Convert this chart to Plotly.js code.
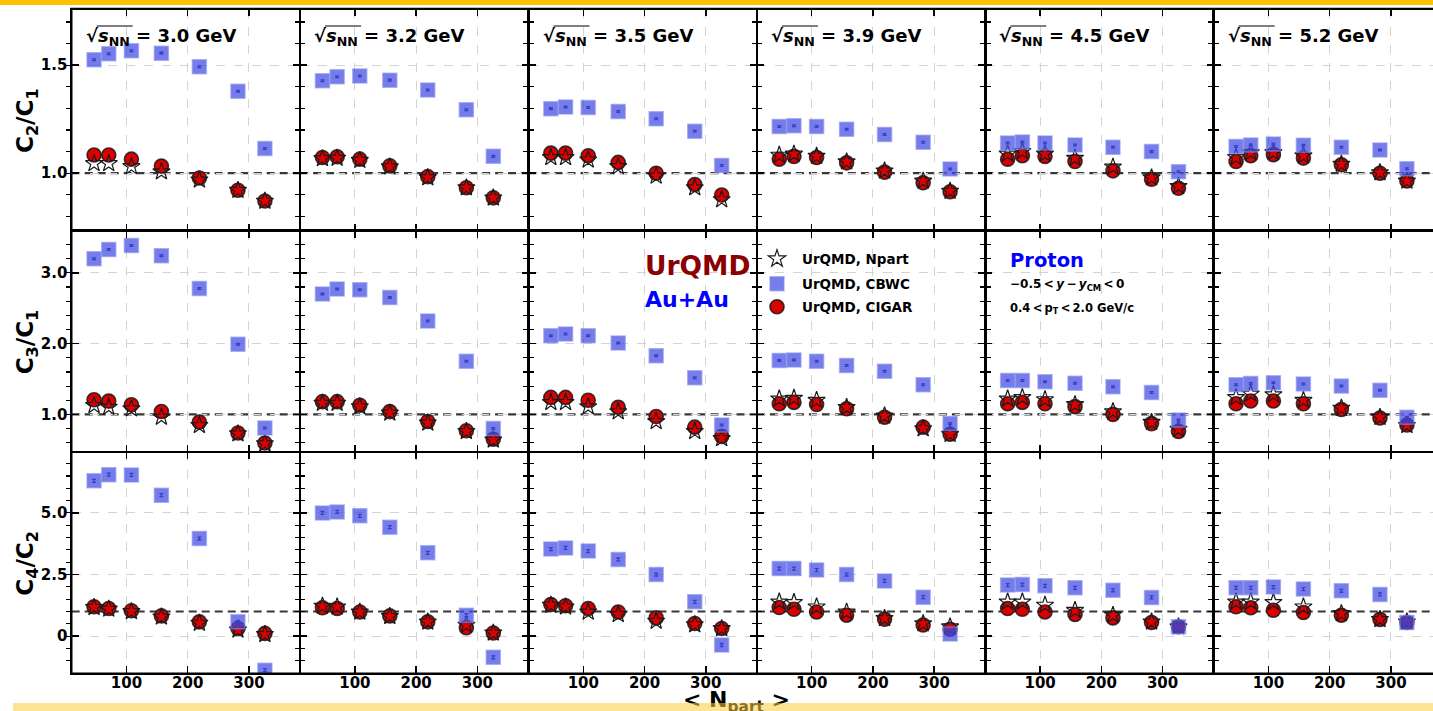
<!DOCTYPE html>
<html><head><meta charset="utf-8">
<script src="https://cdn.plot.ly/plotly-3.0.1.min.js"></script>
<style>
html,body{margin:0;padding:0;overflow:hidden;background:#fff;}
#chart{width:1445px;height:711px;}
.band-top{position:absolute;left:0;top:0;width:1433px;height:5px;background:#ffc000;z-index:10;}
.band-bot{position:absolute;left:13px;top:703px;width:1420px;height:8px;background:rgba(252,205,60,0.55);z-index:10;}
</style></head>
<body>
<div id="chart"></div>
<div class="band-top"></div><div class="band-bot"></div>
<script>
// ---------------- data ----------------
const npart = [47, 71, 108, 157, 219, 282, 326];
const energies = ['3.0', '3.2', '3.5', '3.9', '4.5', '5.2'];
const seriesNames = ['UrQMD, Npart', 'UrQMD, CBWC', 'UrQMD, CIGAR'];
const rowTitles = ['C<sub>2</sub>/C<sub>1</sub>', 'C<sub>3</sub>/C<sub>1</sub>', 'C<sub>4</sub>/C<sub>2</sub>'];
const yTickVals = [[1.0, 1.5], [1, 2, 3], [0, 2.5, 5]];
const yTickText = [['1.0', '1.5'], ['1.0', '2.0', '3.0'], ['0', '2.5', '5.0']];
const xTickVals = [100, 200, 300];
const xTickText = ['100', '200', '300'];

// C2/C1
const c2c1CBWC = [
  [1.525, 1.553, 1.567, 1.556, 1.493, 1.380, 1.114],
  [1.428, 1.447, 1.450, 1.431, 1.385, 1.294, 1.078],
  [1.299, 1.307, 1.304, 1.286, 1.252, 1.194, 1.036],
  [1.216, 1.220, 1.216, 1.204, 1.179, 1.143, 1.019],
  [1.140, 1.145, 1.140, 1.131, 1.120, 1.100, 1.007],
  [1.124, 1.131, 1.135, 1.129, 1.120, 1.107, 1.021]];
const c2c1CIGAR = [
  [1.084, 1.084, 1.065, 1.033, 0.978, 0.921, 0.871],
  [1.073, 1.076, 1.065, 1.034, 0.984, 0.933, 0.886],
  [1.093, 1.093, 1.081, 1.050, 1.000, 0.948, 0.899],
  [1.065, 1.078, 1.073, 1.048, 1.005, 0.956, 0.914],
  [1.065, 1.081, 1.078, 1.054, 1.011, 0.972, 0.930],
  [1.054, 1.081, 1.086, 1.070, 1.039, 1.000, 0.964]];
const c2c1Npart = [
  [1.045, 1.045, 1.031, 1.007, 0.969, 0.921, 0.871],
  [1.068, 1.070, 1.060, 1.030, 0.980, 0.933, 0.886],
  [1.073, 1.073, 1.062, 1.031, 0.987, 0.933, 0.878],
  [1.084, 1.089, 1.079, 1.053, 1.011, 0.964, 0.917],
  [1.089, 1.101, 1.089, 1.070, 1.029, 0.979, 0.939],
  [1.073, 1.096, 1.096, 1.081, 1.042, 1.003, 0.964]];
// C3/C1
const c3c1CBWC = [
  [3.20, 3.33, 3.385, 3.24, 2.78, 1.99, 0.807],
  [2.70, 2.77, 2.76, 2.65, 2.32, 1.75, 0.80],
  [2.113, 2.136, 2.113, 2.01, 1.83, 1.517, 0.85],
  [1.76, 1.77, 1.75, 1.69, 1.61, 1.42, 0.87],
  [1.48, 1.48, 1.46, 1.44, 1.39, 1.31, 0.92],
  [1.42, 1.437, 1.446, 1.43, 1.40, 1.34, 0.96]];
const c3c1CIGAR = [
  [1.207, 1.188, 1.136, 1.042, 0.892, 0.737, 0.596],
  [1.18, 1.18, 1.13, 1.04, 0.90, 0.77, 0.65],
  [1.24, 1.24, 1.20, 1.10, 0.97, 0.82, 0.69],
  [1.15, 1.17, 1.14, 1.08, 0.96, 0.82, 0.72],
  [1.15, 1.17, 1.15, 1.11, 1.00, 0.87, 0.76],
  [1.15, 1.19, 1.19, 1.15, 1.07, 0.95, 0.85]];
const c3c1Npart = [
  [1.127, 1.103, 1.08, 0.962, 0.845, 0.728, 0.587],
  [1.16, 1.16, 1.11, 1.02, 0.88, 0.76, 0.64],
  [1.17, 1.17, 1.11, 1.04, 0.90, 0.76, 0.66],
  [1.22, 1.23, 1.20, 1.10, 0.98, 0.80, 0.72],
  [1.22, 1.24, 1.21, 1.14, 1.04, 0.89, 0.79],
  [1.24, 1.29, 1.28, 1.20, 1.09, 0.96, 0.845]];
// C4/C2
const c4c2CBWC = [
  [6.30, 6.55, 6.54, 5.72, 3.96, 0.58, -1.38],
  [5.00, 5.04, 4.88, 4.42, 3.38, 0.85, -0.86],
  [3.53, 3.58, 3.45, 3.11, 2.50, 1.39, -0.36],
  [2.74, 2.74, 2.68, 2.50, 2.24, 1.58, 0.09],
  [2.07, 2.09, 2.04, 1.96, 1.86, 1.57, 0.38],
  [1.96, 1.96, 1.99, 1.91, 1.84, 1.69, 0.55]];
const c4c2CIGAR = [
  [1.19, 1.12, 1.03, 0.82, 0.58, 0.31, 0.11],
  [1.15, 1.12, 0.98, 0.82, 0.58, 0.34, 0.13],
  [1.28, 1.23, 1.12, 0.98, 0.74, 0.51, 0.31],
  [1.16, 1.09, 0.98, 0.85, 0.69, 0.45, 0.28],
  [1.12, 1.09, 0.98, 0.88, 0.74, 0.55, 0.38],
  [1.19, 1.15, 1.05, 0.96, 0.85, 0.68, 0.55]];
const c4c2Npart = [
  [1.17, 1.10, 1.00, 0.78, 0.53, 0.25, 0.07],
  [1.22, 1.19, 0.98, 0.80, 0.58, 0.45, 0.13],
  [1.26, 1.19, 0.98, 0.88, 0.61, 0.47, 0.31],
  [1.39, 1.37, 1.19, 0.98, 0.72, 0.51, 0.38],
  [1.39, 1.39, 1.26, 1.05, 0.85, 0.58, 0.38],
  [1.39, 1.39, 1.37, 1.19, 0.92, 0.68, 0.58]];
const cbwcErr = [0.004, 0.012, 0.06];

const rowsCBWC = [c2c1CBWC, c3c1CBWC, c4c2CBWC];
const rowsCIGAR = [c2c1CIGAR, c3c1CIGAR, c4c2CIGAR];
const rowsNpart = [c2c1Npart, c3c1Npart, c4c2Npart];

// ---------------- layout geometry / style ----------------
const W = 1445, H = 711;
const left0 = 71.7, colW = 228.4, top0 = 9.3, rowH = 221.35;
const yRanges = [[0.734, 1.759], [0.469, 3.596], [-1.51, 7.47]];
const minorDt = [0.1, 0.2, 0.5];
const xRange = [10.5, 383.5];
const FONT = 'DejaVu Sans';
const px = v => v / W, py = v => 1 - v / H;

const traces = [];
const layout = {
  width: W, height: H, margin: {l: 0, r: 0, t: 0, b: 0},
  paper_bgcolor: '#fff', plot_bgcolor: '#fff',
  font: {family: FONT, color: '#000'},
  showlegend: true, shapes: [], annotations: []
};

for (let r = 0; r < 3; r++) {
  for (let c = 0; c < 6; c++) {
    const k = r * 6 + c + 1;
    const xn = k === 1 ? 'x' : 'x' + k, yn = k === 1 ? 'y' : 'y' + k;
    const xa = k === 1 ? 'xaxis' : 'xaxis' + k, ya = k === 1 ? 'yaxis' : 'yaxis' + k;
    const x0 = left0 + c * colW, y0 = top0 + r * rowH;
    const common = {
      showline: true, linecolor: '#000', linewidth: 1.3, mirror: 'allticks',
      ticks: 'inside', ticklen: 7, tickwidth: 1.5, tickcolor: '#000',
      showgrid: true, gridcolor: '#d4d4d4', gridwidth: 1, griddash: 'dash',
      zeroline: false, fixedrange: true,
      tickfont: {family: FONT, size: 15, weight: 'bold', color: '#000'}
    };
    layout[xa] = Object.assign({}, common, {
      domain: [px(x0), px(x0 + colW)], anchor: yn, range: xRange,
      tickmode: 'array', tickvals: xTickVals, ticktext: xTickText,
      showticklabels: r === 2, ticklabelstandoff: -5
    });
    layout[ya] = Object.assign({}, common, {
      domain: [py(y0 + rowH), py(y0)], anchor: xn, range: yRanges[r],
      tickmode: 'array', tickvals: yTickVals[r], ticktext: yTickText[r],
      showticklabels: c === 0,
      minor: {tickmode: 'linear', tick0: 0, dtick: minorDt[r], ticklen: 4, tickwidth: 1.2, tickcolor: '#000', showgrid: false}
    });
    layout.shapes.push({type: 'line', xref: xn + ' domain', yref: yn, x0: 0, x1: 1, y0: 1, y1: 1,
      line: {color: '#383838', width: 2.2, dash: '8px,5px'}, layer: 'below'});

    traces.push({
      x: npart, y: rowsCIGAR[r][c], xaxis: xn, yaxis: yn, type: 'scatter', mode: 'markers',
      name: seriesNames[2], legend: 'legend3', showlegend: k === 1, hoverinfo: 'skip',
      marker: {symbol: 'circle', size: 14, color: '#dd0000', line: {color: 'rgba(25,25,25,0.85)', width: 1.6}}
    });
    traces.push({
      x: npart, y: rowsNpart[r][c], xaxis: xn, yaxis: yn, type: 'scatter', mode: 'markers',
      name: seriesNames[0], legend: 'legend', showlegend: k === 1, hoverinfo: 'skip',
      marker: {symbol: 'star-open', size: 13, color: '#1a1a1a', line: {width: 1.2}}
    });
    traces.push({
      x: npart, y: rowsCBWC[r][c], xaxis: xn, yaxis: yn, type: 'scatter', mode: 'markers',
      name: seriesNames[1], legend: 'legend2', showlegend: k === 1, hoverinfo: 'skip',
      marker: {symbol: 'square', size: 14, color: 'rgba(65,75,225,0.72)', line: {color: 'rgba(130,140,245,0.6)', width: 1.5}},
      error_y: {type: 'constant', value: cbwcErr[r], color: '#1c1ca0', thickness: 1.3, width: 2}
    });
  }
  // row titles
  layout.annotations.push({
    text: rowTitles[r], xref: 'paper', yref: 'paper', x: px(27), y: py(top0 + r * rowH + rowH / 2),
    xanchor: 'center', yanchor: 'middle', textangle: -90, showarrow: false,
    font: {family: FONT, size: 23, weight: 'bold', color: '#000'}
  });
}

// outer frame of the grid
layout.shapes.push({type: 'rect', xref: 'paper', yref: 'paper',
  x0: px(left0 - 0.4), x1: px(left0 + 6 * colW + 0.4), y0: py(top0 + 3 * rowH + 0.4), y1: py(top0 - 0.4),
  line: {color: '#000', width: 2.4}, fillcolor: 'rgba(0,0,0,0)', layer: 'above'});

// energy labels
for (let c = 0; c < 6; c++) {
  layout.annotations.push({
    text: '√<i>s</i><sub>NN</sub> = ' + energies[c] + ' GeV', xref: 'paper', yref: 'paper',
    x: px(left0 + c * colW + 12), y: py(37), xanchor: 'left', yanchor: 'middle', showarrow: false,
    font: {family: FONT, size: 18, weight: 'bold', color: '#000'}
  });
  layout.shapes.push({type: 'line', xref: 'paper', yref: 'paper',
    x0: px(left0 + c * colW + 25), x1: px(left0 + c * colW + 61), y0: py(26), y1: py(26),
    line: {color: '#000', width: 1.2}});
}

// x title
layout.annotations.push({
  text: '&lt; N<sub>part</sub> &gt;', xref: 'paper', yref: 'paper', x: px(736), y: py(701),
  xanchor: 'center', yanchor: 'middle', showarrow: false,
  font: {family: FONT, size: 22, weight: 'bold', color: '#000'}
});
// texts
const txt = (t, x, y, size, color, anchor) => layout.annotations.push({
  text: t, xref: 'paper', yref: 'paper', x: px(x), y: py(y), xanchor: anchor || 'left', yanchor: 'middle',
  showarrow: false, font: {family: FONT, size: size, weight: 'bold', color: color}
});
txt('UrQMD', 643, 265, 26.5, '#8b0000');
txt('Au+Au', 643, 299, 22, '#0000ff');
txt('Proton', 1008, 261, 19.5, '#0000ff');
txt('−0.5\u2009&lt;\u2009<i>y</i>\u2009−\u2009<i>y</i><sub>CM</sub>\u2009&lt;\u20090', 1008, 285, 12, '#000');
txt('0.4\u2009&lt;\u2009p<sub>T</sub>\u2009&lt;\u20092.0 GeV/c', 1008, 308, 11.5, '#000');

// legends
const legStyle = y => ({x: px(752), y: py(y), xanchor: 'left', yanchor: 'middle', bgcolor: 'rgba(0,0,0,0)',
  borderwidth: 0, itemwidth: 40, font: {family: FONT, size: 13.5, weight: 'bold', color: '#000'}});
layout.legend = legStyle(259);
layout.legend2 = legStyle(284);
layout.legend3 = legStyle(307);

Plotly.newPlot('chart', traces, layout, {staticPlot: true, displayModeBar: false});
</script>
</body></html>
